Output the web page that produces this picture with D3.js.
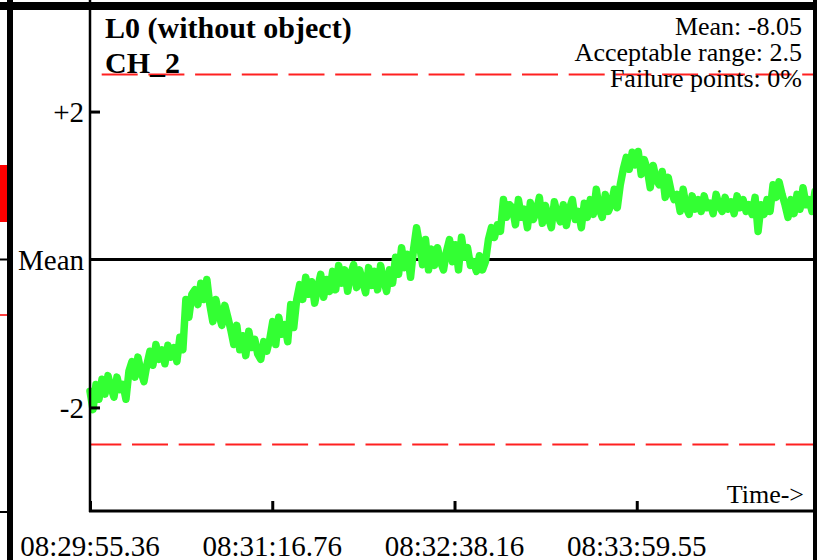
<!DOCTYPE html>
<html>
<head>
<meta charset="utf-8">
<script src="https://cdn.jsdelivr.net/npm/d3@7"></script>
<style>
html,body{margin:0;padding:0;background:#fff;}
svg{display:block;}
text{font-family:"Liberation Serif","Times New Roman",serif;fill:#000;}
</style>
</head>
<body>
<svg id="chart" width="817" height="560"></svg>
<script>
// ---- data ----
const titleLines = ["L0 (without object)", "CH_2"];
const infoLines = ["Mean: -8.05", "Acceptable range: 2.5", "Failure points: 0%"];
const meanValue = -8.05;
const acceptableRange = 2.5;
const yTickValues = [2, 0, -2];
const yTickLabels = ["+2", "Mean", "-2"];
const xTickSeconds = [0, 81.4, 162.8, 244.19];
const xTickLabels = ["08:29:55.36", "08:31:16.76", "08:32:38.16", "08:33:59.55"];
const totalSeconds = 323.8;
// deviation from mean
const deviation = [
 -1.78,-2.03,-1.69,-1.89,
 -1.62,-1.82,-1.57,-1.73,-1.86,-1.59,-1.76,
 -1.69,-1.89,-1.51,
 -1.38,-1.59,-1.32,-1.51,-1.65,-1.42,
 -1.24,-1.43,-1.15,-1.35,-1.22,-1.41,-1.16,-1.32,-1.19,-1.38,
 -1.05,-1.22,
 -0.54,-0.78,-0.47,
 -0.41,-0.61,-0.32,-0.54,-0.27,
 -0.61,-0.84,-0.54,-0.74,-0.89,-0.62,-0.78,
 -0.95,-1.15,-0.89,-1.22,-1.03,-1.30,-0.97,-1.19,-1.08,-1.28,
 -1.35,-1.11,-1.24,
 -1.08,-0.84,-1.15,-0.78,-1.01,-0.88,-1.11,
 -0.61,-0.92,-0.54,
 -0.34,-0.54,-0.24,-0.47,-0.30,-0.59,-0.38,
 -0.20,-0.51,-0.27,-0.43,
 -0.16,-0.41,-0.08,-0.32,-0.14,-0.43,-0.20,-0.07,-0.38,-0.14,-0.30,-0.45,-0.11,-0.35,-0.16,-0.41,-0.08,-0.27,-0.43,-0.14,-0.32,
 0.03,-0.20,0.16,-0.11,0.07,-0.24,0.14,
 0.43,
 0.20,-0.07,0.27,-0.14,
 0.14,-0.08,0.16,-0.03,-0.14,0.11,
 0.27,-0.03,0.20,-0.14,0.30,0.03,0.16,-0.08,
 -0.03,-0.16,0.05,-0.14,-0.03,
 0.27,0.43,0.30,0.47,0.38,
 0.81,0.57,0.74,
 0.70,0.47,0.81,0.57,0.68,0.43,0.77,0.54,0.65,0.84,0.49,0.73,0.57,0.43,0.78,0.61,0.51,0.74,0.46,0.68,0.81,0.54,0.65,0.43,0.76,0.57,
 0.81,0.61,0.95,0.68,0.57,0.88,0.65,0.74,0.95,0.70,
 1.01,1.22,
 1.38,1.22,1.45,1.28,1.46,1.15,1.35,
 1.22,0.97,1.27,1.08,
 1.01,1.19,0.84,1.11,0.92,0.81,
 0.88,0.65,0.95,0.70,0.61,0.86,0.68,
 0.81,0.65,0.86,0.70,0.76,0.62,0.88,0.73,0.65,0.84,0.68,0.78,0.62,0.86,0.70,0.81,0.65,0.74,0.61,0.84,
 0.38,
 0.74,0.61,0.81,0.65,
 1.01,0.84,1.05,0.88,
 0.74,0.57,0.81,0.62,
 0.88,0.68,0.97,0.74,0.81,0.65,0.92
];

// ---- drawing ----
const svg = d3.select("#chart");
const W = 817, H = 560;
const plotLeft = 90, plotRight = 815, plotTop = 8, plotBottom = 511;

svg.append("rect").attr("width", W).attr("height", H).attr("fill", "#fff");

const y = d3.scaleLinear().domain([meanValue - 3.4, meanValue + 3.4]).range([plotBottom, plotTop]);
const xTime = d3.scaleLinear().domain([0, totalSeconds]).range([plotLeft, plotRight]);
const xIdx = d3.scaleLinear().domain([0, deviation.length - 1]).range([plotLeft, plotRight]);

// fragments of neighbouring panel at the left edge
svg.append("rect").attr("x", 0).attr("y", 165).attr("width", 7).attr("height", 57).attr("fill", "#ff0000");
svg.append("line").attr("x1", 0).attr("x2", 8).attr("y1", y(meanValue)).attr("y2", y(meanValue)).attr("stroke", "#000").attr("stroke-width", 2);
svg.append("line").attr("x1", 0).attr("x2", 8).attr("y1", 315).attr("y2", 315).attr("stroke", "#ff0000").attr("stroke-width", 1.5);
svg.append("line").attr("x1", 0).attr("x2", 8).attr("y1", 512).attr("y2", 512).attr("stroke", "#000").attr("stroke-width", 2);

// acceptable range dashed lines
svg.append("line")
  .attr("x1", plotLeft).attr("x2", W).attr("y1", y(meanValue + acceptableRange)).attr("y2", y(meanValue + acceptableRange))
  .attr("stroke", "#ff2020").attr("stroke-width", 2)
  .attr("stroke-dasharray", "36,10.7").attr("stroke-dashoffset", -11.7);
svg.append("line")
  .attr("x1", plotLeft).attr("x2", W).attr("y1", y(meanValue - acceptableRange)).attr("y2", y(meanValue - acceptableRange))
  .attr("stroke", "#ff2020").attr("stroke-width", 2)
  .attr("stroke-dasharray", "36,10.7").attr("stroke-dashoffset", 4.7);

// mean line
svg.append("line")
  .attr("x1", plotLeft).attr("x2", W).attr("y1", y(meanValue)).attr("y2", y(meanValue))
  .attr("stroke", "#000").attr("stroke-width", 3);

// green trace
const line = d3.line().x((d, i) => xIdx(i)).y(d => y(meanValue + d)).curve(d3.curveLinear);
svg.append("path").datum(deviation)
  .attr("d", line).attr("fill", "none")
  .attr("stroke", "#33ff33").attr("stroke-width", 7.5)
  .attr("stroke-linejoin", "round").attr("stroke-linecap", "round");

// y axis
const yAxis = d3.axisRight(y)
  .tickValues(yTickValues.filter(v => v !== 0).map(v => meanValue + v))
  .tickSize(10).tickFormat("");
const gy = svg.append("g").attr("transform", `translate(${plotLeft},0)`).call(yAxis);
gy.select(".domain").remove();
gy.selectAll(".tick line").attr("stroke", "#000").attr("stroke-width", 3);
svg.append("line").attr("x1", plotLeft).attr("x2", plotLeft).attr("y1", 0).attr("y2", plotBottom + 1)
  .attr("stroke", "#000").attr("stroke-width", 2.5);
yTickValues.forEach((v, i) => {
  svg.append("text").attr("x", plotLeft - 6).attr("y", y(meanValue + v)).attr("dy", "0.36em")
    .attr("text-anchor", "end").attr("font-size", 29).text(yTickLabels[i]);
});

// x axis
const xAxis = d3.axisTop(xTime).tickValues(xTickSeconds).tickSize(10).tickFormat("");
const gx = svg.append("g").attr("transform", `translate(0,${plotBottom})`).call(xAxis);
gx.select(".domain").remove();
gx.selectAll(".tick line").attr("stroke", "#000").attr("stroke-width", 3);
svg.append("line").attr("x1", plotLeft - 1).attr("x2", W).attr("y1", plotBottom).attr("y2", plotBottom)
  .attr("stroke", "#000").attr("stroke-width", 3);
xTickSeconds.forEach((t, i) => {
  svg.append("text").attr("x", xTime(t)).attr("y", 556).attr("text-anchor", "middle")
    .attr("font-size", 29).text(xTickLabels[i]);
});
svg.append("text").attr("x", 804).attr("y", 503).attr("text-anchor", "end").attr("font-size", 26).text("Time->");

// title
titleLines.forEach((t, i) => {
  svg.append("text").attr("x", 105).attr("y", 38 + i * 35).attr("font-size", 30).attr("font-weight", "bold").text(t);
});
// info
infoLines.forEach((t, i) => {
  svg.append("text").attr("x", 802).attr("y", 35 + i * 26).attr("text-anchor", "end").attr("font-size", 26).text(t);
});

// frame pieces
svg.append("rect").attr("x", 0).attr("y", 2).attr("width", W).attr("height", 8).attr("fill", "#000");
svg.append("rect").attr("x", 7).attr("y", 0).attr("width", 6).attr("height", H).attr("fill", "#000");
svg.append("rect").attr("x", 813).attr("y", 0).attr("width", 4).attr("height", H).attr("fill", "#000");
</script>
</body>
</html>
